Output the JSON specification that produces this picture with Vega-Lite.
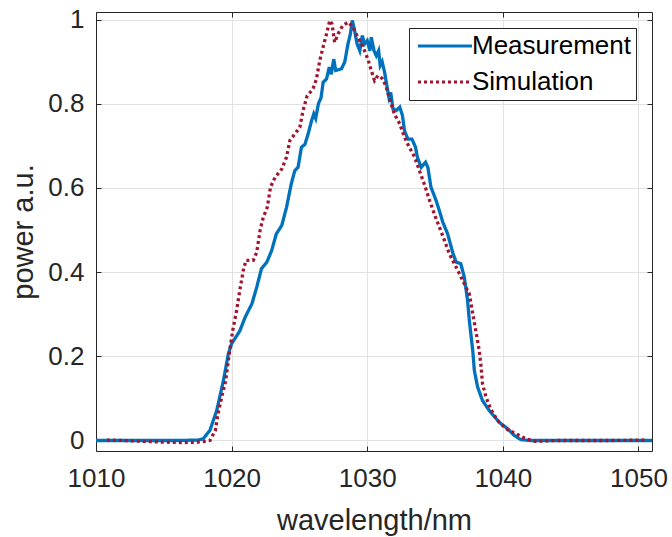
{
  "$schema": "https://vega.github.io/schema/vega-lite/v6.json",
  "width": 556,
  "height": 439,
  "autosize": "none",
  "padding": {"left": 96, "top": 12, "right": 20, "bottom": 86},
  "background": "white",
  "config": {
    "font": "Liberation Sans",
    "view": {"stroke": null},
    "axis": {
      "labelFont": "Liberation Sans",
      "titleFont": "Liberation Sans",
      "labelColor": "#262626",
      "titleColor": "#262626",
      "domainColor": "#262626",
      "tickColor": "#262626",
      "domainWidth": 1,
      "tickWidth": 1,
      "gridColor": "#e2e2e2",
      "gridWidth": 1,
      "titleFontWeight": "normal"
    }
  },
  "data": {
    "values": [
      {"wl": 1010, "p": 0, "s": "Measurement"},
      {"wl": 1012, "p": 0, "s": "Measurement"},
      {"wl": 1014, "p": 0, "s": "Measurement"},
      {"wl": 1016, "p": 0, "s": "Measurement"},
      {"wl": 1017.5, "p": 0.001, "s": "Measurement"},
      {"wl": 1017.9, "p": 0.004, "s": "Measurement"},
      {"wl": 1018.4, "p": 0.024, "s": "Measurement"},
      {"wl": 1018.9, "p": 0.071, "s": "Measurement"},
      {"wl": 1019.4, "p": 0.143, "s": "Measurement"},
      {"wl": 1019.76, "p": 0.206, "s": "Measurement"},
      {"wl": 1020.0, "p": 0.23, "s": "Measurement"},
      {"wl": 1020.6, "p": 0.26, "s": "Measurement"},
      {"wl": 1021.0, "p": 0.293, "s": "Measurement"},
      {"wl": 1021.5, "p": 0.325, "s": "Measurement"},
      {"wl": 1021.85, "p": 0.364, "s": "Measurement"},
      {"wl": 1022.2, "p": 0.408, "s": "Measurement"},
      {"wl": 1022.6, "p": 0.424, "s": "Measurement"},
      {"wl": 1022.95, "p": 0.451, "s": "Measurement"},
      {"wl": 1023.3, "p": 0.491, "s": "Measurement"},
      {"wl": 1023.7, "p": 0.511, "s": "Measurement"},
      {"wl": 1024.05, "p": 0.554, "s": "Measurement"},
      {"wl": 1024.4, "p": 0.61, "s": "Measurement"},
      {"wl": 1024.66, "p": 0.641, "s": "Measurement"},
      {"wl": 1024.9, "p": 0.649, "s": "Measurement"},
      {"wl": 1025.15, "p": 0.697, "s": "Measurement"},
      {"wl": 1025.4, "p": 0.703, "s": "Measurement"},
      {"wl": 1025.64, "p": 0.728, "s": "Measurement"},
      {"wl": 1025.9, "p": 0.76, "s": "Measurement"},
      {"wl": 1026.06, "p": 0.776, "s": "Measurement"},
      {"wl": 1026.2, "p": 0.765, "s": "Measurement"},
      {"wl": 1026.4, "p": 0.8, "s": "Measurement"},
      {"wl": 1026.6, "p": 0.815, "s": "Measurement"},
      {"wl": 1026.75, "p": 0.851, "s": "Measurement"},
      {"wl": 1027.0, "p": 0.859, "s": "Measurement"},
      {"wl": 1027.2, "p": 0.887, "s": "Measurement"},
      {"wl": 1027.35, "p": 0.87, "s": "Measurement"},
      {"wl": 1027.53, "p": 0.906, "s": "Measurement"},
      {"wl": 1027.68, "p": 0.879, "s": "Measurement"},
      {"wl": 1028.1, "p": 0.883, "s": "Measurement"},
      {"wl": 1028.34, "p": 0.899, "s": "Measurement"},
      {"wl": 1028.58, "p": 0.942, "s": "Measurement"},
      {"wl": 1028.76, "p": 0.966, "s": "Measurement"},
      {"wl": 1028.9, "p": 0.998, "s": "Measurement"},
      {"wl": 1029.07, "p": 0.974, "s": "Measurement"},
      {"wl": 1029.25, "p": 0.942, "s": "Measurement"},
      {"wl": 1029.45, "p": 0.926, "s": "Measurement"},
      {"wl": 1029.64, "p": 0.962, "s": "Measurement"},
      {"wl": 1029.8, "p": 0.942, "s": "Measurement"},
      {"wl": 1030.0, "p": 0.95, "s": "Measurement"},
      {"wl": 1030.2, "p": 0.926, "s": "Measurement"},
      {"wl": 1030.3, "p": 0.958, "s": "Measurement"},
      {"wl": 1030.5, "p": 0.926, "s": "Measurement"},
      {"wl": 1030.67, "p": 0.914, "s": "Measurement"},
      {"wl": 1030.84, "p": 0.926, "s": "Measurement"},
      {"wl": 1030.96, "p": 0.891, "s": "Measurement"},
      {"wl": 1031.1, "p": 0.9, "s": "Measurement"},
      {"wl": 1031.28, "p": 0.875, "s": "Measurement"},
      {"wl": 1031.45, "p": 0.843, "s": "Measurement"},
      {"wl": 1031.6, "p": 0.815, "s": "Measurement"},
      {"wl": 1031.73, "p": 0.827, "s": "Measurement"},
      {"wl": 1031.9, "p": 0.788, "s": "Measurement"},
      {"wl": 1032.15, "p": 0.784, "s": "Measurement"},
      {"wl": 1032.4, "p": 0.792, "s": "Measurement"},
      {"wl": 1032.6, "p": 0.772, "s": "Measurement"},
      {"wl": 1032.75, "p": 0.736, "s": "Measurement"},
      {"wl": 1033.0, "p": 0.716, "s": "Measurement"},
      {"wl": 1033.3, "p": 0.716, "s": "Measurement"},
      {"wl": 1033.56, "p": 0.697, "s": "Measurement"},
      {"wl": 1033.7, "p": 0.673, "s": "Measurement"},
      {"wl": 1033.98, "p": 0.649, "s": "Measurement"},
      {"wl": 1034.3, "p": 0.661, "s": "Measurement"},
      {"wl": 1034.47, "p": 0.649, "s": "Measurement"},
      {"wl": 1034.7, "p": 0.602, "s": "Measurement"},
      {"wl": 1035.08, "p": 0.57, "s": "Measurement"},
      {"wl": 1035.32, "p": 0.546, "s": "Measurement"},
      {"wl": 1035.57, "p": 0.519, "s": "Measurement"},
      {"wl": 1035.93, "p": 0.491, "s": "Measurement"},
      {"wl": 1036.3, "p": 0.447, "s": "Measurement"},
      {"wl": 1036.55, "p": 0.424, "s": "Measurement"},
      {"wl": 1036.9, "p": 0.42, "s": "Measurement"},
      {"wl": 1037.16, "p": 0.388, "s": "Measurement"},
      {"wl": 1037.4, "p": 0.333, "s": "Measurement"},
      {"wl": 1037.53, "p": 0.285, "s": "Measurement"},
      {"wl": 1037.78, "p": 0.214, "s": "Measurement"},
      {"wl": 1037.9, "p": 0.166, "s": "Measurement"},
      {"wl": 1038.14, "p": 0.127, "s": "Measurement"},
      {"wl": 1038.5, "p": 0.095, "s": "Measurement"},
      {"wl": 1039.0, "p": 0.071, "s": "Measurement"},
      {"wl": 1039.74, "p": 0.043, "s": "Measurement"},
      {"wl": 1040.35, "p": 0.028, "s": "Measurement"},
      {"wl": 1040.84, "p": 0.012, "s": "Measurement"},
      {"wl": 1041.33, "p": 0.002, "s": "Measurement"},
      {"wl": 1042, "p": 0, "s": "Measurement"},
      {"wl": 1044, "p": 0, "s": "Measurement"},
      {"wl": 1046, "p": 0, "s": "Measurement"},
      {"wl": 1048, "p": 0, "s": "Measurement"},
      {"wl": 1051, "p": 0, "s": "Measurement"},
      {"wl": 1010.8, "p": 0.001, "s": "Simulation"},
      {"wl": 1012, "p": 0, "s": "Simulation"},
      {"wl": 1013.5, "p": -0.002, "s": "Simulation"},
      {"wl": 1015, "p": -0.004, "s": "Simulation"},
      {"wl": 1016.5, "p": -0.005, "s": "Simulation"},
      {"wl": 1017.5, "p": -0.004, "s": "Simulation"},
      {"wl": 1018.0, "p": -0.002, "s": "Simulation"},
      {"wl": 1018.4, "p": 0.0, "s": "Simulation"},
      {"wl": 1018.8, "p": 0.024, "s": "Simulation"},
      {"wl": 1019.0, "p": 0.064, "s": "Simulation"},
      {"wl": 1019.27, "p": 0.103, "s": "Simulation"},
      {"wl": 1019.55, "p": 0.14, "s": "Simulation"},
      {"wl": 1019.83, "p": 0.206, "s": "Simulation"},
      {"wl": 1020.08, "p": 0.261, "s": "Simulation"},
      {"wl": 1020.37, "p": 0.309, "s": "Simulation"},
      {"wl": 1020.6, "p": 0.356, "s": "Simulation"},
      {"wl": 1020.86, "p": 0.404, "s": "Simulation"},
      {"wl": 1021.06, "p": 0.428, "s": "Simulation"},
      {"wl": 1021.6, "p": 0.428, "s": "Simulation"},
      {"wl": 1021.85, "p": 0.447, "s": "Simulation"},
      {"wl": 1022.1, "p": 0.499, "s": "Simulation"},
      {"wl": 1022.33, "p": 0.53, "s": "Simulation"},
      {"wl": 1022.63, "p": 0.554, "s": "Simulation"},
      {"wl": 1022.87, "p": 0.602, "s": "Simulation"},
      {"wl": 1023.2, "p": 0.625, "s": "Simulation"},
      {"wl": 1023.7, "p": 0.645, "s": "Simulation"},
      {"wl": 1024.05, "p": 0.673, "s": "Simulation"},
      {"wl": 1024.3, "p": 0.713, "s": "Simulation"},
      {"wl": 1024.66, "p": 0.728, "s": "Simulation"},
      {"wl": 1025.03, "p": 0.744, "s": "Simulation"},
      {"wl": 1025.27, "p": 0.784, "s": "Simulation"},
      {"wl": 1025.57, "p": 0.819, "s": "Simulation"},
      {"wl": 1026.0, "p": 0.835, "s": "Simulation"},
      {"wl": 1026.26, "p": 0.859, "s": "Simulation"},
      {"wl": 1026.5, "p": 0.903, "s": "Simulation"},
      {"wl": 1026.74, "p": 0.934, "s": "Simulation"},
      {"wl": 1027.0, "p": 0.966, "s": "Simulation"},
      {"wl": 1027.24, "p": 0.998, "s": "Simulation"},
      {"wl": 1027.4, "p": 0.99, "s": "Simulation"},
      {"wl": 1027.6, "p": 0.946, "s": "Simulation"},
      {"wl": 1027.85, "p": 0.966, "s": "Simulation"},
      {"wl": 1028.2, "p": 0.986, "s": "Simulation"},
      {"wl": 1028.6, "p": 0.994, "s": "Simulation"},
      {"wl": 1028.95, "p": 0.982, "s": "Simulation"},
      {"wl": 1029.3, "p": 0.958, "s": "Simulation"},
      {"wl": 1029.7, "p": 0.934, "s": "Simulation"},
      {"wl": 1030.05, "p": 0.906, "s": "Simulation"},
      {"wl": 1030.3, "p": 0.879, "s": "Simulation"},
      {"wl": 1030.54, "p": 0.855, "s": "Simulation"},
      {"wl": 1030.79, "p": 0.867, "s": "Simulation"},
      {"wl": 1031.15, "p": 0.859, "s": "Simulation"},
      {"wl": 1031.4, "p": 0.84, "s": "Simulation"},
      {"wl": 1031.65, "p": 0.812, "s": "Simulation"},
      {"wl": 1032.0, "p": 0.776, "s": "Simulation"},
      {"wl": 1032.4, "p": 0.752, "s": "Simulation"},
      {"wl": 1032.75, "p": 0.72, "s": "Simulation"},
      {"wl": 1033.1, "p": 0.697, "s": "Simulation"},
      {"wl": 1033.5, "p": 0.673, "s": "Simulation"},
      {"wl": 1033.85, "p": 0.641, "s": "Simulation"},
      {"wl": 1034.2, "p": 0.61, "s": "Simulation"},
      {"wl": 1034.6, "p": 0.57, "s": "Simulation"},
      {"wl": 1034.95, "p": 0.538, "s": "Simulation"},
      {"wl": 1035.32, "p": 0.507, "s": "Simulation"},
      {"wl": 1035.7, "p": 0.475, "s": "Simulation"},
      {"wl": 1036.06, "p": 0.443, "s": "Simulation"},
      {"wl": 1036.43, "p": 0.42, "s": "Simulation"},
      {"wl": 1036.8, "p": 0.396, "s": "Simulation"},
      {"wl": 1037.16, "p": 0.372, "s": "Simulation"},
      {"wl": 1037.53, "p": 0.348, "s": "Simulation"},
      {"wl": 1037.9, "p": 0.28, "s": "Simulation"},
      {"wl": 1038.26, "p": 0.214, "s": "Simulation"},
      {"wl": 1038.4, "p": 0.174, "s": "Simulation"},
      {"wl": 1038.5, "p": 0.135, "s": "Simulation"},
      {"wl": 1038.76, "p": 0.103, "s": "Simulation"},
      {"wl": 1039.1, "p": 0.075, "s": "Simulation"},
      {"wl": 1039.6, "p": 0.048, "s": "Simulation"},
      {"wl": 1040.23, "p": 0.028, "s": "Simulation"},
      {"wl": 1040.96, "p": 0.016, "s": "Simulation"},
      {"wl": 1041.7, "p": 0.004, "s": "Simulation"},
      {"wl": 1042.4, "p": -0.002, "s": "Simulation"},
      {"wl": 1044, "p": 0, "s": "Simulation"},
      {"wl": 1046, "p": 0, "s": "Simulation"},
      {"wl": 1048, "p": 0, "s": "Simulation"},
      {"wl": 1050.6, "p": 0.001, "s": "Simulation"}
    ]
  },
  "layer": [
    {
      "mark": {"type": "line", "strokeWidth": 3.3, "strokeCap": "butt", "clip": true},
      "encoding": {
        "x": {
          "field": "wl", "type": "quantitative",
          "scale": {"domain": [1010, 1051], "nice": false, "zero": false},
          "axis": {
            "orient": "bottom", "values": [1010, 1020, 1030, 1040, 1050],
            "format": "d", "labelFontSize": 26, "tickSize": -5, "labelPadding": 19,
            "title": "wavelength/nm", "titleFontSize": 29, "titlePadding": 15,
            "grid": true, "labelFlush": false, "labelOverlap": false
          }
        },
        "y": {
          "field": "p", "type": "quantitative",
          "scale": {"domain": [-0.025, 1.018], "nice": false, "zero": false},
          "axis": {
            "orient": "left", "values": [0, 0.2, 0.4, 0.6, 0.8, 1],
            "format": "~g", "labelFontSize": 26, "tickSize": -5, "labelPadding": 17,
            "title": "power a.u.", "titleFontSize": 29, "titlePadding": 9,
            "grid": true, "labelFlush": false, "labelOverlap": false
          }
        },
        "color": {
          "field": "s", "type": "nominal",
          "scale": {"domain": ["Measurement", "Simulation"], "range": ["#0072BD", "#A2142F"]},
          "legend": {
            "title": null, "orient": "none", "legendX": 313, "legendY": 16,
            "symbolType": "M-3,0H3", "symbolSize": 324, "symbolStrokeWidth": 3, "symbolOffset": 18,
            "labelFontSize": 26, "labelColor": "#000000", "labelFont": "Liberation Sans",
            "padding": 5, "rowPadding": 10, "labelOffset": 14,
            "strokeColor": "#262626", "fillColor": "white", "cornerRadius": 0
          }
        },
        "strokeDash": {
          "field": "s", "type": "nominal",
          "scale": {"domain": ["Measurement", "Simulation"], "range": [[1, 0], [3, 3]]},
          "legend": {
            "title": null, "orient": "none", "legendX": 313, "legendY": 16,
            "symbolType": "M-3,0H3", "symbolSize": 324, "symbolStrokeWidth": 3, "symbolOffset": 18,
            "labelFontSize": 26, "labelColor": "#000000", "labelFont": "Liberation Sans",
            "padding": 5, "rowPadding": 10, "labelOffset": 14,
            "strokeColor": "#262626", "fillColor": "white", "cornerRadius": 0
          }
        }
      }
    },
    {
      "mark": {"type": "line", "opacity": 0},
      "encoding": {
        "x": {
          "field": "wl", "type": "quantitative",
          "scale": {"domain": [1010, 1051], "nice": false, "zero": false},
          "axis": {"orient": "top", "values": [1010, 1020, 1030, 1040, 1050], "labels": false, "tickSize": -5, "title": null, "grid": false}
        },
        "y": {
          "field": "p", "type": "quantitative",
          "scale": {"domain": [-0.025, 1.018], "nice": false, "zero": false},
          "axis": {"orient": "right", "values": [0, 0.2, 0.4, 0.6, 0.8, 1], "labels": false, "tickSize": -5, "title": null, "grid": false}
        }
      }
    }
  ],
  "resolve": {"axis": {"x": "independent", "y": "independent"}}
}
